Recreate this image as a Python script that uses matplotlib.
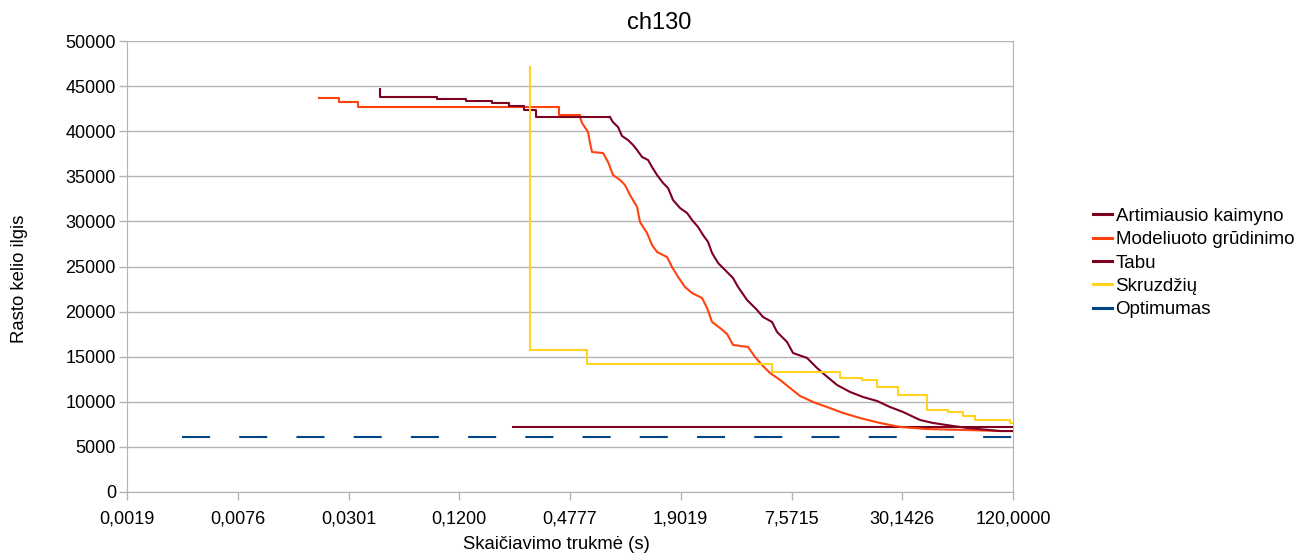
import matplotlib
matplotlib.use('Agg')
import matplotlib.pyplot as plt
from matplotlib.lines import Line2D

# Best route length found so far vs. computing time (s).
nn_time = [0.2347, 120.0]
nn_len = [7200, 7200]

sa_time = [0.0209, 0.0268, 0.0340, 0.4167, 0.5416, 0.5553, 0.5983, 0.6134, 0.6290,
           0.7216, 0.7681, 0.817, 0.892, 0.949, 1.010, 1.103, 1.144, 1.249, 1.329,
           1.415, 1.603, 1.706, 1.839, 2.006, 2.190, 2.481, 2.640, 2.810, 3.105,
           3.388, 3.651, 4.404, 4.805, 5.244, 5.794, 6.565, 7.436, 8.424, 9.906,
           11.80, 14.41, 17.81, 22.86, 29.33, 41.08, 67.67, 102.1, 120.0]
sa_len = [43650, 43270, 42650, 41800, 41540, 40910, 39910, 38690, 37690,
          37580, 36580, 35140, 34590, 34030, 32930, 31600, 29930, 28710, 27380,
          26610, 26050, 24940, 23840, 22730, 22060, 21510, 20400, 18850, 18180,
          17520, 16300, 16080, 14970, 14080, 13190, 12420, 11530, 10640, 9980,
          9420, 8760, 8200, 7650, 7210, 6980, 6870, 6760, 6760]

tabu_time = [0.0447, 0.0447, 0.0910, 0.1306, 0.1806, 0.2233, 0.2693, 0.3128, 0.787,
             0.817, 0.870, 0.914, 0.985, 1.049, 1.103, 1.174, 1.265, 1.329, 1.415,
             1.525, 1.623, 1.727, 1.885, 2.058, 2.190, 2.360, 2.512, 2.674, 2.810,
             3.029, 3.388, 3.651, 3.887, 4.348, 4.926, 5.309, 5.939, 6.322, 7.164,
             7.719, 9.192, 10.41, 11.51, 13.37, 15.72, 18.49, 22.01, 25.89, 30.45,
             37.65, 44.27, 56.82, 67.67, 102.1, 120.0]
tabu_len = [44700, 43800, 43600, 43350, 43100, 42800, 42300, 41550, 41550,
            41000, 40460, 39470, 39020, 38470, 37910, 37140, 36810, 36030, 35140,
            34260, 33700, 32370, 31480, 30930, 30150, 29380, 28490, 27720, 26500,
            25390, 24390, 23720, 22730, 21290, 20180, 19400, 18850, 17740, 16630,
            15410, 14860, 13750, 12970, 11860, 11090, 10530, 10090, 9420, 8870,
            7980, 7650, 7320, 7100, 6760, 6760]

aco_time = [0.2903, 0.2903, 0.5909, 5.939, 13.87, 18.25, 22.01, 28.61, 41.08,
            53.38, 64.37, 74.76, 115.7, 120.0]
aco_len = [47100, 15750, 14190, 13300, 12640, 12420, 11640, 10750, 9090,
           8870, 8420, 8000, 7650, 7650]

opt_time = [0.00378, 120.0]
opt_len = [6110, 6110]

series_names = ['Artimiausio kaimyno', 'Modeliuoto grūdinimo', 'Tabu', 'Skruzdžių', 'Optimumas']
colors = ['#7E0021', '#FF420E', '#7E0021', '#FFD320', '#004586']

x_tick_labels = ['0,0019', '0,0076', '0,0301', '0,1200', '0,4777',
                 '1,9019', '7,5715', '30,1426', '120,0000']

# Early plateaus are drawn as steps, the dense descent as a plain line.
SA_STEP_END = 4
TABU_STEP_END = 8

plt.rcParams['font.family'] = ['Liberation Sans', 'DejaVu Sans']
plt.rcParams['lines.scale_dashes'] = False

fig = plt.figure(figsize=(13.13, 5.56), dpi=100)
ax = fig.add_axes([127 / 1313, 1 - 492 / 556, (1013 - 127) / 1313, (492 - 41) / 556])

lw = 1.5
ax.plot(nn_time, nn_len, color=colors[0], lw=lw, drawstyle='steps-post', zorder=3)
ax.plot(sa_time[:SA_STEP_END + 1], sa_len[:SA_STEP_END + 1], color=colors[1], lw=lw,
        drawstyle='steps-post', zorder=3)
ax.plot(sa_time[SA_STEP_END:], sa_len[SA_STEP_END:], color=colors[1], lw=lw, zorder=3)
ax.plot(tabu_time[:TABU_STEP_END + 1], tabu_len[:TABU_STEP_END + 1], color=colors[2], lw=lw,
        drawstyle='steps-post', zorder=3)
ax.plot(tabu_time[TABU_STEP_END:], tabu_len[TABU_STEP_END:], color=colors[2], lw=lw, zorder=3)
ax.plot(aco_time, aco_len, color=colors[3], lw=lw, drawstyle='steps-post', zorder=3)
ax.plot(opt_time, opt_len, color=colors[4], lw=lw, linestyle=(0, (20.2, 21.0)), zorder=3)

# Log axis where each tick is a factor 10^0.6 apart, ending at 120 s.
x_ticks = [120.0 / 10 ** (0.6 * k) for k in range(8, -1, -1)]
ax.set_xscale('log')
ax.set_xlim(x_ticks[0], x_ticks[-1])
ax.set_xticks(x_ticks)
ax.set_xticklabels(x_tick_labels)
ax.xaxis.set_minor_locator(matplotlib.ticker.NullLocator())

ax.set_ylim(0, 50000)
ax.set_yticks(range(0, 50001, 5000))

grid_c = '#b3b3b3'
ax.yaxis.grid(True, color=grid_c, lw=1)
ax.set_axisbelow(True)
for side in ['left', 'bottom', 'right']:
    ax.spines[side].set_color(grid_c)
ax.spines['top'].set_visible(False)
ax.tick_params(axis='both', colors=grid_c, length=6, width=1, labelcolor='black',
               labelsize=13)
ax.tick_params(axis='y', pad=2)
ax.tick_params(axis='x', pad=7)

ax.set_xlabel('Skaičiavimo trukmė (s)', fontsize=13.3)
ax.set_ylabel('Rasto kelio ilgis', fontsize=13.3)
ax.xaxis.set_label_coords(0.485, -0.098)
ax.yaxis.set_label_coords(-0.112, 0.472)
fig.suptitle('ch130', x=0.502, y=0.978, fontsize=17)

handles = [Line2D([0], [0], color=c, lw=2.2) for c in colors]
fig.legend(handles, series_names, loc='center left', bbox_to_anchor=(1093 / 1313, 1 - 263 / 556),
           frameon=False, fontsize=13.5, handlelength=1.0, handletextpad=0.2,
           labelspacing=0.33, borderaxespad=0, borderpad=0)

fig.savefig('out.png', dpi=100)
